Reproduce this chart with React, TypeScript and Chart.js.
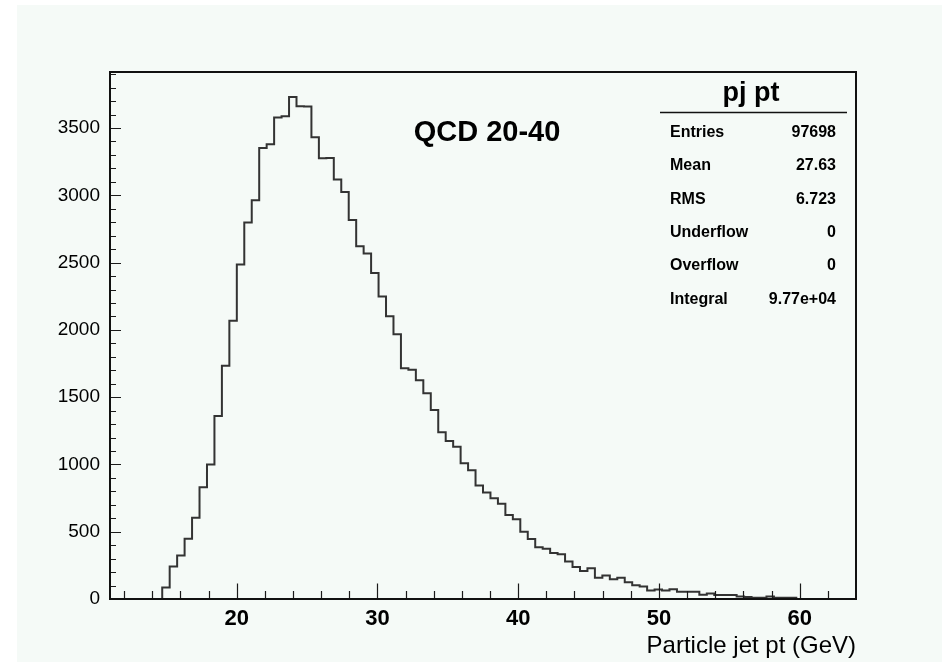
import React, { useEffect, useRef } from "react";
import { Chart, registerables } from "chart.js";

Chart.register(...registerables);

// Histogram binning: 100 bins between 11 and 64 GeV
const xMin = 11;
const xMax = 64;
const nBins = 100;

// Bin contents (entries per bin), bin 0 starts at xMin
const binCounts: number[] = [
  0, 0, 0, 0, 0, 0, 0, 85, 241, 323,
  447, 603, 831, 999, 1360, 1733, 2068, 2486, 2798, 2964,
  3352, 3379, 3578, 3587, 3730, 3662, 3660, 3431, 3275, 3278,
  3117, 3025, 2817, 2622, 2568, 2422, 2249, 2102, 1967, 1714,
  1704, 1625, 1529, 1405, 1239, 1174, 1132, 1009, 957, 844,
  791, 749, 708, 624, 592, 500, 446, 384, 373, 341,
  333, 278, 238, 209, 228, 157, 174, 146, 157, 125,
  103, 93, 63, 71, 63, 73, 53, 53, 53, 31,
  41, 29, 29, 29, 19, 15, 9, 9, 19, 9,
  9, 9, 0, 0, 0, 0, 0, 0, 0, 0,
];

const xMajorTicks = [20, 30, 40, 50, 60];
const yMajorTicks = [0, 500, 1000, 1500, 2000, 2500, 3000, 3500];

const histTitle = "QCD 20-40";
const xAxisTitle = "Particle jet pt (GeV)";

const statsName = "pj pt";
const statLabels = ["Entries", "Mean", "RMS", "Underflow", "Overflow", "Integral"];
const statValues = ["97698", "27.63", "6.723", "0", "0", "9.77e+04"];

const FONT = "'Liberation Sans', Arial, Helvetica, sans-serif";
const PAD_COLOR = "rgb(245, 250, 247)";

// Canvas background, frame, inward tick marks, title and stats box
const rootStylePlugin = {
  id: "rootStyle",
  beforeDraw(chart: any) {
    const ctx = chart.ctx;
    ctx.save();
    ctx.fillStyle = PAD_COLOR;
    ctx.fillRect(17, 5, chart.width - 17, chart.height - 5);
    ctx.restore();
  },
  afterDraw(chart: any) {
    const ctx = chart.ctx;
    const { left, right, top, bottom } = chart.chartArea;
    const xs = chart.scales.x;
    const ys = chart.scales.y;

    ctx.save();
    // tick marks
    ctx.strokeStyle = "#1a1a1a";
    ctx.lineWidth = 1.2;
    ctx.beginPath();
    for (let v = 12; v < xMax; v += 2) {
      const px = Math.round(xs.getPixelForValue(v)) + 0.5;
      const len = v % 10 === 0 ? 15.5 : 8;
      ctx.moveTo(px, bottom);
      ctx.lineTo(px, bottom - len);
    }
    for (let v = 0; v <= ys.max; v += 100) {
      const py = Math.round(ys.getPixelForValue(v)) + 0.5;
      const len = v % 500 === 0 ? 11 : 6;
      ctx.moveTo(left, py);
      ctx.lineTo(left + len, py);
    }
    ctx.stroke();

    // frame
    ctx.strokeStyle = "#111";
    ctx.lineWidth = 2;
    ctx.strokeRect(left, top, right - left, bottom - top);

    // histogram title
    ctx.fillStyle = "#000";
    ctx.font = `bold 29px ${FONT}`;
    ctx.textAlign = "center";
    ctx.textBaseline = "alphabetic";
    ctx.fillText(histTitle, 487, 141);

    // stats box
    ctx.font = `bold 27px ${FONT}`;
    ctx.fillText(statsName, 751, 101);
    ctx.lineWidth = 1.5;
    ctx.beginPath();
    ctx.moveTo(660, 112.5);
    ctx.lineTo(847, 112.5);
    ctx.stroke();

    ctx.font = `bold 16px ${FONT}`;
    statLabels.forEach((label, i) => {
      const y = 137 + i * 33.3;
      ctx.textAlign = "left";
      ctx.fillText(label, 670, y);
      ctx.textAlign = "right";
      ctx.fillText(statValues[i], 836, y);
    });
    ctx.restore();
  },
};

export default function App() {
  const canvasRef = useRef<HTMLCanvasElement | null>(null);

  useEffect(() => {
    if (!canvasRef.current) return;
    const width = (xMax - xMin) / nBins;
    const points = binCounts.map((c, i) => ({ x: xMin + i * width, y: c }));
    points.push({ x: xMax, y: 0 });
    const yTop = Math.max(...binCounts) * 1.05;

    const chart = new Chart(canvasRef.current, {
      type: "line",
      data: {
        datasets: [
          {
            data: points,
            stepped: "before",
            borderColor: "#333333",
            borderWidth: 2,
            pointRadius: 0,
            fill: false,
            borderJoinStyle: "miter",
            clip: false,
          } as any,
        ],
      },
      options: {
        animation: false,
        responsive: false,
        events: [],
        layout: { padding: { left: 17, top: 72, right: 86, bottom: 0 } },
        plugins: {
          legend: { display: false },
          tooltip: { enabled: false },
          title: { display: false },
        },
        scales: {
          x: {
            type: "linear",
            min: xMin,
            max: xMax,
            grid: { display: false, drawTicks: false },
            border: { display: false },
            afterBuildTicks: (scale: any) => {
              scale.ticks = xMajorTicks.map((v) => ({ value: v }));
            },
            afterFit: (scale: any) => {
              scale.height = 63;
            },
            ticks: {
              autoSkip: false,
              maxRotation: 0,
              padding: 7,
              color: "#000",
              font: { family: FONT, size: 22, weight: "bold" },
              callback: (v: any) => String(v),
            },
            title: {
              display: true,
              text: xAxisTitle,
              align: "end",
              color: "#000",
              font: { family: FONT, size: 24 },
              padding: { top: 0, bottom: 1 },
            },
          },
          y: {
            type: "linear",
            min: 0,
            max: yTop,
            grid: { display: false, drawTicks: false },
            border: { display: false },
            afterBuildTicks: (scale: any) => {
              scale.ticks = yMajorTicks.map((v) => ({ value: v }));
            },
            afterFit: (scale: any) => {
              scale.width = 93;
            },
            ticks: {
              autoSkip: false,
              padding: 10,
              color: "#000",
              font: { family: FONT, size: 19 },
              callback: (v: any) => String(v),
            },
          },
        },
      },
      plugins: [rootStylePlugin],
    });
    return () => chart.destroy();
  }, []);

  return (
    <canvas
      ref={canvasRef}
      width={942}
      height={662}
      style={{ position: "fixed", left: 0, top: 0, width: 942, height: 662 }}
    />
  );
}
